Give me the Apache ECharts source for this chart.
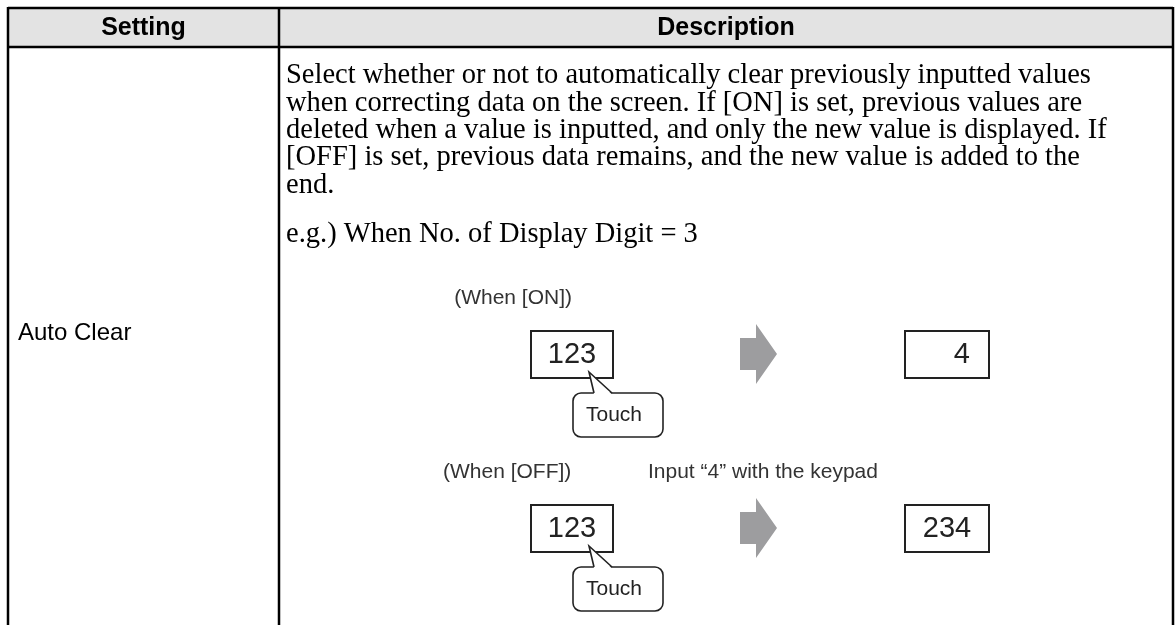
<!DOCTYPE html>
<html><head><meta charset="utf-8">
<script src="https://cdn.jsdelivr.net/npm/echarts@6/dist/echarts.min.js"></script>
<style>html,body{margin:0;padding:0;background:#fff}#c{width:1176px;height:625px}</style>
</head><body><div id="c"></div>
<script>
var headers = ['Setting', 'Description'];
var settingName = 'Auto Clear';
var descLines = [
  'Select whether or not to automatically clear previously inputted values',
  'when correcting data on the screen. If [ON] is set, previous values are',
  'deleted when a value is inputted, and only the new value is displayed. If',
  '[OFF] is set, previous data remains, and the new value is added to the',
  'end.'
];
var exampleLine = 'e.g.) When No. of Display Digit = 3';
var caseLabels = ['(When [ON])', '(When [OFF])'];
var inputNote = 'Input \u201c4\u201d with the keypad';
var beforeValues = ['123', '123'];
var afterValues = ['4', '234'];
var touchLabel = 'Touch';

var chart = echarts.init(document.getElementById('c'), null, {renderer: 'canvas'});
var L = 8, T = 8, R = 1173, HB = 47, D = 279, B = 625;
var g = [];
g.push({type: 'rect', shape: {x: L, y: T, width: R - L, height: HB - T}, style: {fill: '#e3e3e3'}});
function line(x1, y1, x2, y2, w) {
  g.push({type: 'line', shape: {x1: x1, y1: y1, x2: x2, y2: y2}, style: {stroke: '#000', lineWidth: w || 2}});
}
line(L, T, R, T, 2.5);
line(L, HB, R, HB, 2.5);
line(L, T - 1, L, B, 2.5);
line(R, T - 1, R, B, 2.5);
line(D, T, D, B, 2.5);
var hFont = 'bold 25px "Liberation Sans", Arial, sans-serif';
g.push({type: 'text', x: (L + D) / 2, y: (T + HB) / 2 + 0.5, style: {text: headers[0], font: hFont, fill: '#000', align: 'center', verticalAlign: 'middle'}});
g.push({type: 'text', x: (D + R) / 2, y: (T + HB) / 2 + 0.5, style: {text: headers[1], font: hFont, fill: '#000', align: 'center', verticalAlign: 'middle'}});
var bFont = '28.5px "Liberation Serif", "Times New Roman", serif';
descLines.forEach(function (t, i) {
  g.push({type: 'text', x: 286, y: 76 + i * 27.3, style: {text: t, font: bFont, fill: '#000', verticalAlign: 'middle'}});
});
g.push({type: 'text', x: 286, y: 235, style: {text: exampleLine, font: bFont, fill: '#000', verticalAlign: 'middle'}});
g.push({type: 'text', x: 18, y: 333, style: {text: settingName, font: '24px "Liberation Sans", Arial, sans-serif', fill: '#000', verticalAlign: 'middle'}});

var sFont = '21px "Liberation Sans", Arial, sans-serif';
var nFont = '29px "Liberation Sans", Arial, sans-serif';
var rowY = [331, 505];
var labelY = [298, 472];
caseLabels.forEach(function (lab, i) {
  var y0 = rowY[i];
  if (i === 0) {
    g.push({type: 'text', x: 572, y: labelY[i], style: {text: lab, font: sFont, fill: '#333', align: 'right', verticalAlign: 'middle'}});
  } else {
    g.push({type: 'text', x: 443, y: labelY[i], style: {text: lab, font: sFont, fill: '#333', verticalAlign: 'middle'}});
  }
  g.push({type: 'rect', shape: {x: 531, y: y0, width: 82, height: 47}, style: {fill: '#fff', stroke: '#222', lineWidth: 2}});
  g.push({type: 'text', x: 572, y: y0 + 24, style: {text: beforeValues[i], font: nFont, fill: '#222', align: 'center', verticalAlign: 'middle'}});
  g.push({type: 'rect', shape: {x: 573, y: y0 + 62, width: 90, height: 44, r: 8}, style: {fill: '#fff', stroke: '#222', lineWidth: 1.6}});
  g.push({type: 'polygon', shape: {points: [[594, y0 + 63.5], [589, y0 + 41], [612, y0 + 63.5]]}, style: {fill: '#fff'}});
  g.push({type: 'polyline', shape: {points: [[594, y0 + 62], [589, y0 + 41], [612, y0 + 62]]}, style: {stroke: '#222', lineWidth: 1.6, fill: null}});
  g.push({type: 'text', x: 614, y: y0 + 84, style: {text: touchLabel, font: sFont, fill: '#222', align: 'center', verticalAlign: 'middle'}});
  var ay = y0 + 23;
  g.push({type: 'polygon', shape: {points: [[740, ay - 16], [756, ay - 16], [756, ay - 30], [777, ay], [756, ay + 30], [756, ay + 16], [740, ay + 16]]}, style: {fill: '#9d9d9f'}});
  g.push({type: 'rect', shape: {x: 905, y: y0, width: 84, height: 47}, style: {fill: '#fff', stroke: '#222', lineWidth: 2}});
  if (i === 0) {
    g.push({type: 'text', x: 970, y: y0 + 24, style: {text: afterValues[i], font: nFont, fill: '#222', align: 'right', verticalAlign: 'middle'}});
  } else {
    g.push({type: 'text', x: 947, y: y0 + 24, style: {text: afterValues[i], font: nFont, fill: '#222', align: 'center', verticalAlign: 'middle'}});
  }
});
g.push({type: 'text', x: 648, y: 472, style: {text: inputNote, font: sFont, fill: '#333', verticalAlign: 'middle'}});

chart.setOption({animation: false, graphic: {elements: g}});
</script>
</body></html>
